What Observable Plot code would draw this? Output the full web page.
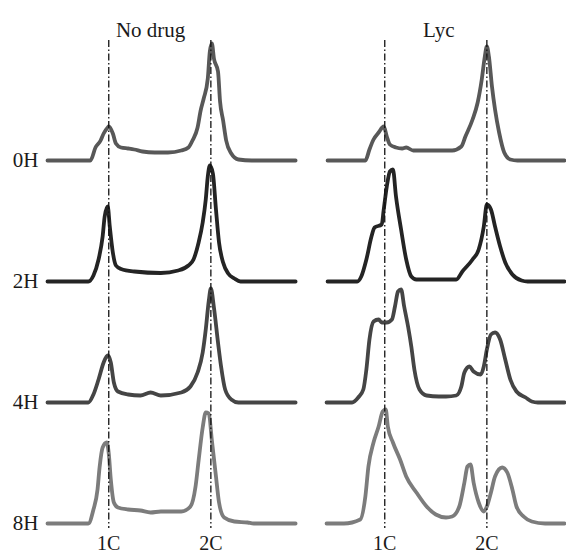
<!DOCTYPE html>
<html><head><meta charset="utf-8">
<script src="https://cdn.jsdelivr.net/npm/d3@7"></script>
<script src="https://cdn.jsdelivr.net/npm/@observablehq/plot@0.6"></script>
<style>body{margin:0;background:#fff} #chart svg{display:block}</style>
</head><body><div id="chart"></div>
<script>
// ---- data (x: DNA-content channel, 1C = 100, 2C = 200; second value: cell count) ----
const conditions = ["No drug", "Lyc"];
const times = ["0H", "2H", "4H", "8H"];
const ploidyLabels = ["1C", "2C"];
const ploidyChannels = [100, 200];

const noDrug_0H = [[40,0],[82,0],[87,13],[92,20],[95,27],[99,33],[100,34],[104,27],[107,17],[112,13],[119,12],[125,11],[133,9],[145,8],[158,8],[171,10],[178,13],[182,20],[187,33],[190,50],[193,62],[197,82],[199,109],[201,117],[203,102],[207,89],[209,59],[212,40],[215,20],[220,7],[227,1],[240,0],[283,0]];
const noDrug_2H = [[40,0],[80,0],[85,6],[90,22],[94,45],[96,65],[99,75],[101,55],[104,29],[107,16],[112,12.5],[125,10],[151,8.5],[168,11],[178,16],[183,22],[188,39],[192,59],[195,82],[197,105],[199,116],[202,108],[205,72],[208,39],[212,19],[217,8],[223,3],[229,0],[283,0]];
const noDrug_4H = [[40,0],[80,0],[85,8],[90,23],[95,40],[99,47],[102,40],[105,20],[109,11],[119,8],[131,7],[141,10],[151,7],[171,10],[180,16],[187,30],[192,50],[195,73],[198,102],[200,114],[203,95],[207,60],[210,36],[214,13],[220,3],[227,0],[283,0]];
const noDrug_8H = [[40,0],[80,0],[85,14],[89,34],[91,56],[94,76],[98,81],[100,70],[102,44],[105,21],[109,16],[119,14],[131,13],[141,11],[151,12],[171,12],[180,17],[185,37],[188,63],[192,96],[195,111],[198,110],[201,83],[205,47],[208,21],[213,6],[223,2],[236,1],[242,0],[283,0]];

const lyc_0H = [[44,0],[81,0],[85,11],[89,21],[94,28],[99,34],[102,24],[105,16],[111,13],[117,12],[121,13],[128,10],[166,10],[175,14],[179,24],[186,41],[191,58],[195,81],[198,104],[200,114],[202,104],[205,74],[208,51],[212,28],[217,8],[223,1],[230,0],[276,0]];
const lyc_2H = [[44,0],[73,0],[77,5],[82,22],[87,45],[90,54],[97,57],[99,72],[102,95],[105,110],[108,112],[111,85],[116,52],[121,22],[126,5],[131,2],[170,2],[176,10],[186,22],[192,32],[197,55],[200,77],[204,72],[208,55],[213,35],[218,19],[225,7],[234,1],[240,0],[276,0]];
const lyc_4H = [[43,0],[68,0],[74,5],[79,13],[82,33],[85,63],[89,81],[94,83],[97,80],[102,80],[107,83],[110,96],[113,111],[116,113],[119,96],[123,75],[126,56],[129,33],[134,13],[141,7],[153,6],[160,6],[170,7],[175,16],[178,30],[183,36],[187,31],[194,28],[197,36],[200,53],[204,68],[208,70],[213,63],[218,43],[223,23],[229,11],[238,5],[244,1],[250,0],[276,0]];
const lyc_8H = [[43,0],[60,0],[76,4],[81,27],[84,57],[89,81],[94,97],[98,112],[101,114],[103,97],[108,81],[115,64],[121,47],[131,31],[141,17],[150,9],[160,6],[166,7],[173,17],[178,41],[181,57],[184,59],[187,41],[192,21],[197,12],[200,17],[204,31],[208,47],[215,56],[220,51],[225,34],[229,17],[236,7],[244,2],[257,0],[276,0]];

// ---- assembly ----
const histograms = {
  "No drug": {"0H": noDrug_0H, "2H": noDrug_2H, "4H": noDrug_4H, "8H": noDrug_8H},
  "Lyc": {"0H": lyc_0H, "2H": lyc_2H, "4H": lyc_4H, "8H": lyc_8H}
};
const rowSpacing = 121;
const rowOffset = t => (times.length - 1 - times.indexOf(t)) * rowSpacing;
const rowColor = {"0H": "#585858", "2H": "#242424", "4H": "#454545", "8H": "#7c7c7c"};
const titleX = {"No drug": 141, "Lyc": 153};

const rows = [];
for (const cond of conditions) for (const t of times)
  for (const [x, c] of histograms[cond][t]) rows.push({cond, time: t, x, y: c + rowOffset(t)});

const lineMarks = times.map(t => Plot.line(rows.filter(d => d.time === t), {
  x: "x", y: "y", z: "cond", fx: "cond",
  stroke: rowColor[t], strokeWidth: 3.8, curve: "monotone-x",
  strokeLinejoin: "round", strokeLinecap: "round"
}));

const offsetToName = new Map(times.map(t => [rowOffset(t), t]));

const chart = Plot.plot({
  width: 566, height: 555,
  marginLeft: 47, marginRight: 0, marginTop: 40, marginBottom: 27,
  style: {fontFamily: "'Liberation Serif', 'Times New Roman', serif", fontSize: "20px", color: "#1a1a1a", background: "#fff"},
  fx: {domain: conditions, padding: 0.12, axis: null},
  x: {domain: [40, 278], axis: null},
  y: {domain: [-5, 483], axis: null},
  marks: [
    ...lineMarks,
    Plot.ruleX(ploidyChannels, {stroke: "#111", strokeWidth: 1.3, strokeDasharray: "7,2.5,1.5,2.5"}),
    Plot.axisX({ticks: ploidyChannels, tickFormat: v => ploidyLabels[ploidyChannels.indexOf(v)], tickSize: 0, tickPadding: 7, fontSize: 20, label: null}),
    Plot.axisY({ticks: times.map(rowOffset), tickFormat: v => offsetToName.get(v), tickSize: 0, tickPadding: 9, fontSize: 21, label: null}),
    Plot.text(conditions, {fx: d => d, x: d => titleX[d], text: d => d, frameAnchor: "top", dy: -18, fontSize: 21})
  ]
});
document.getElementById("chart").appendChild(chart);
</script>
</body></html>
